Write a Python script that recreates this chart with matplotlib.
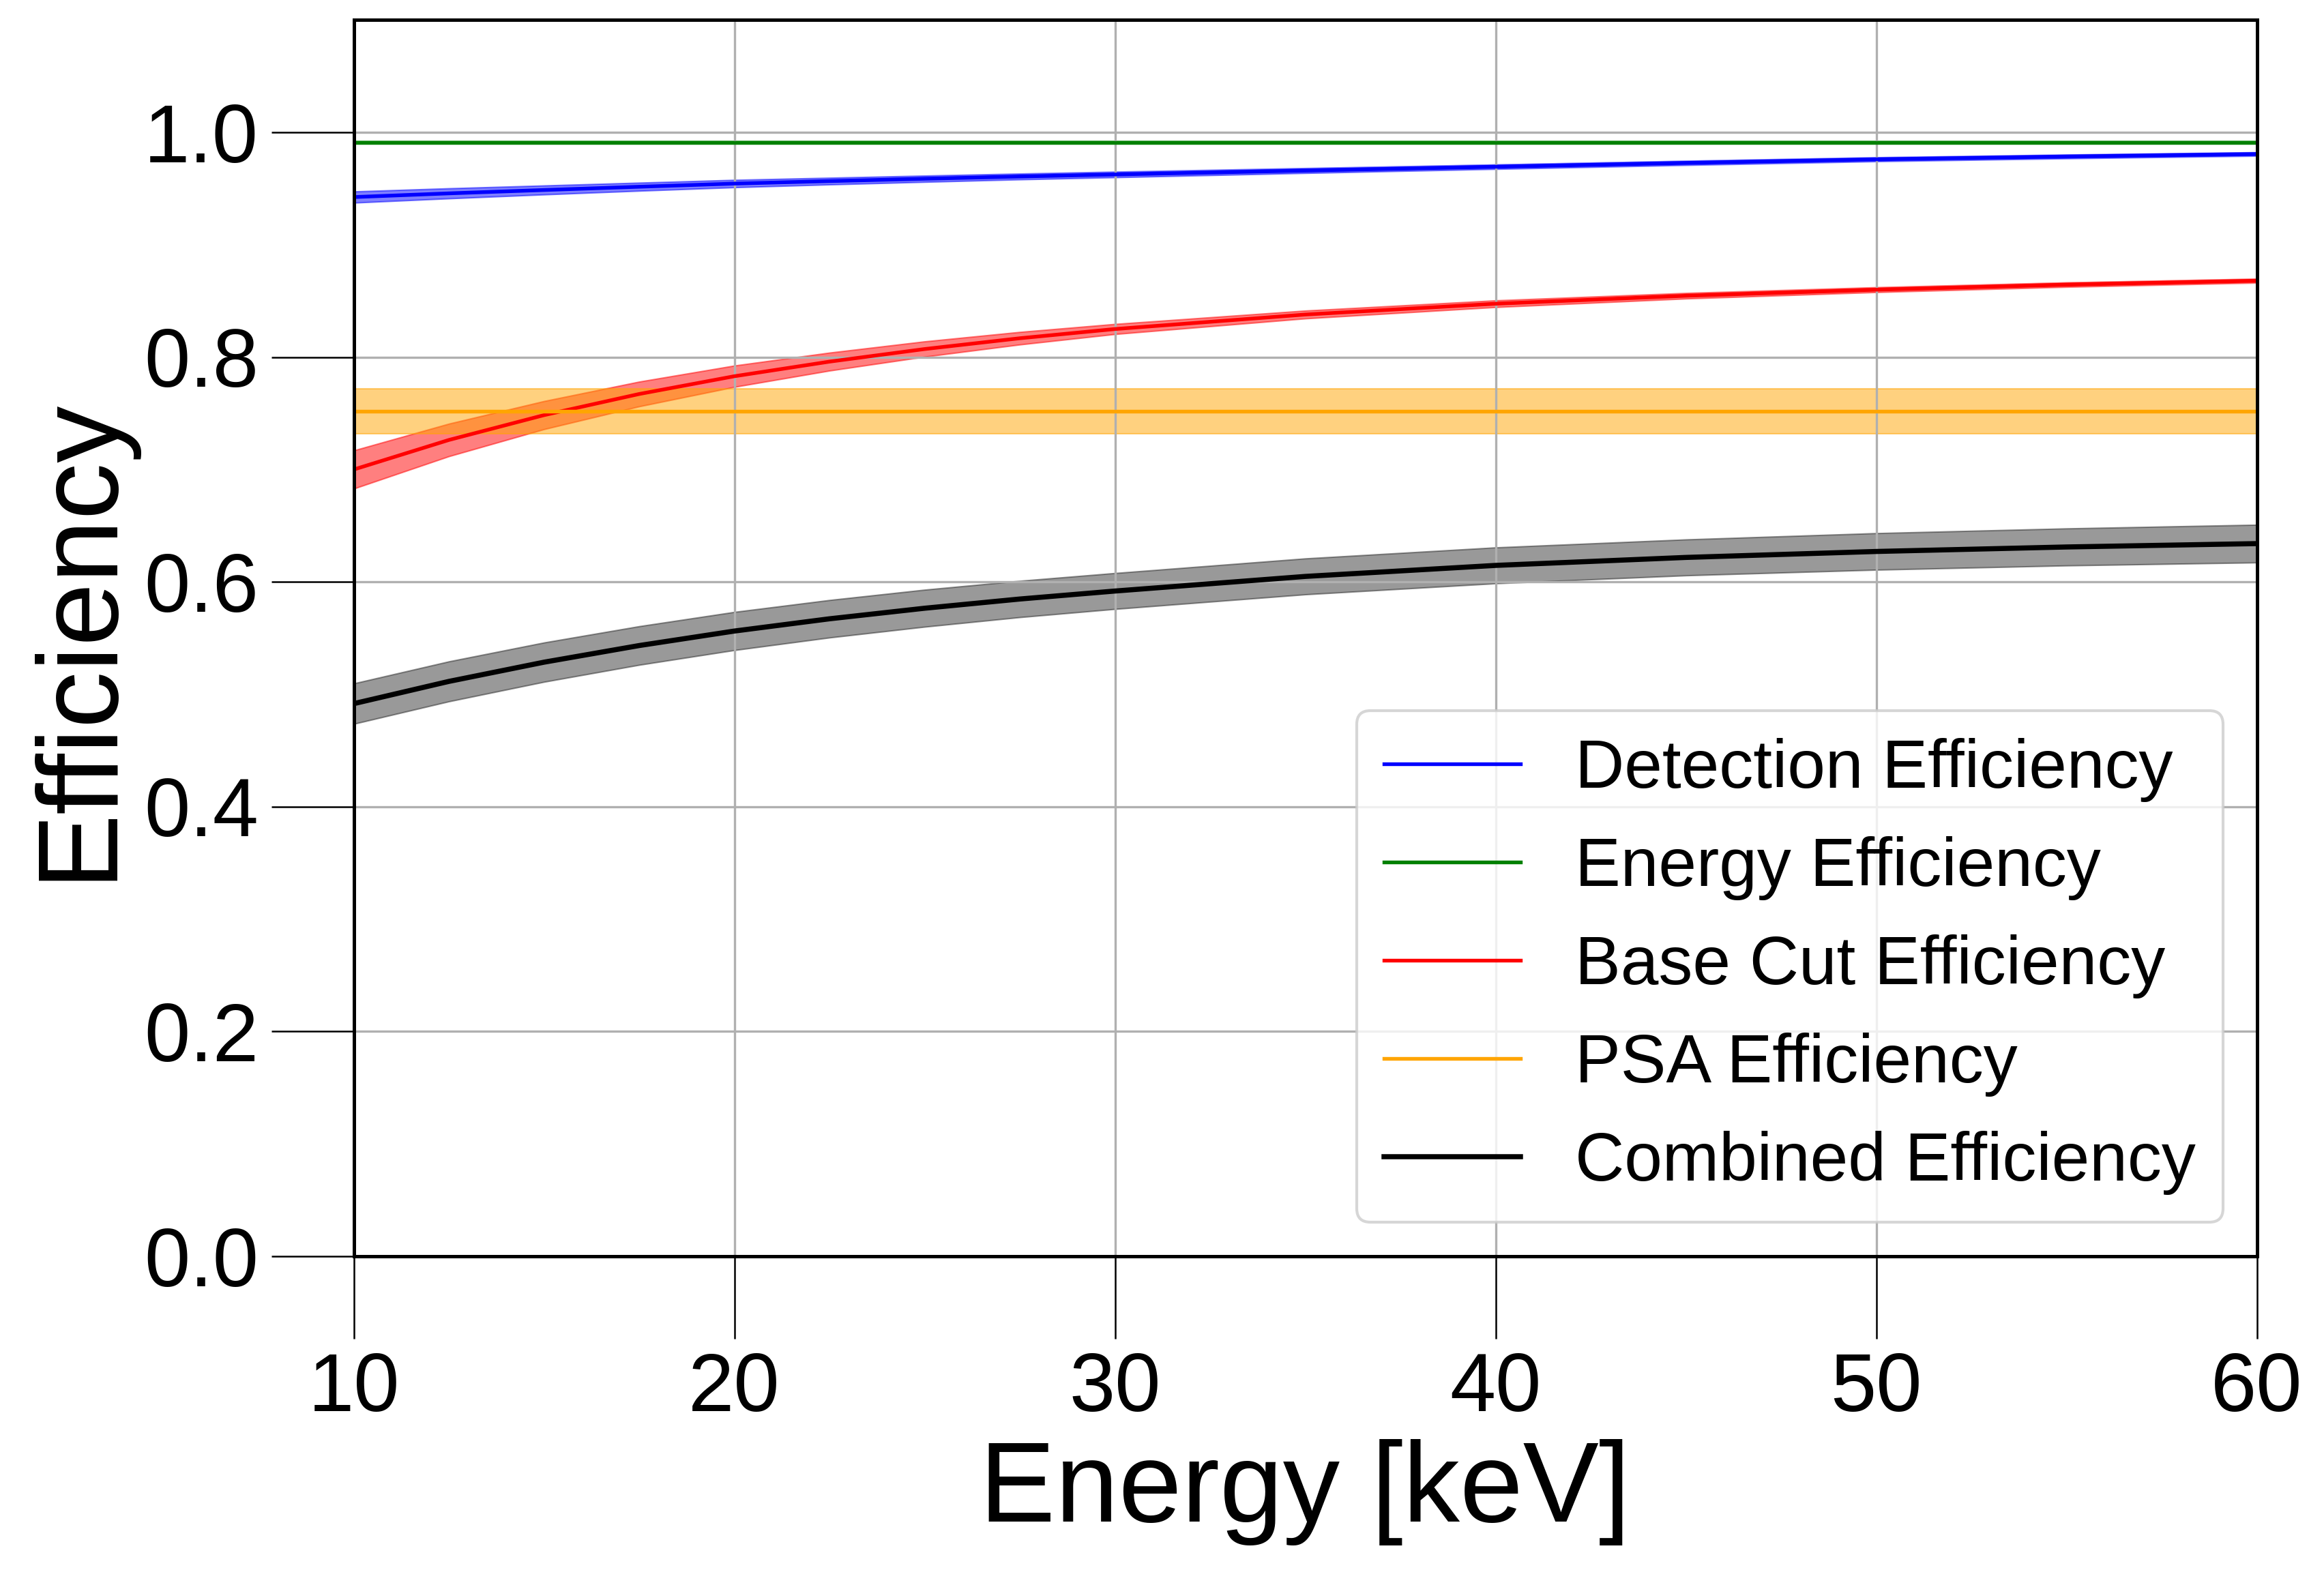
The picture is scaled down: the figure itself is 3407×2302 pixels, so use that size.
import matplotlib.pyplot as plt
import numpy as np

plt.rcParams['font.family'] = ['Liberation Sans', 'DejaVu Sans']

# Data
energy = [10, 12.5, 15, 17.5, 20, 22.5, 25, 27.5, 30, 35, 40, 45, 50, 55, 60]

detection = [0.9424, 0.9457, 0.9487, 0.9516, 0.9544, 0.9566, 0.9587, 0.9607,
             0.9625, 0.966, 0.9694, 0.9728, 0.976, 0.9785, 0.9807]
detection_err = [0.005, 0.0045, 0.004, 0.0036, 0.0033, 0.003, 0.0028, 0.0026,
                 0.0025, 0.0022, 0.002, 0.0019, 0.0018, 0.0017, 0.0016]

energy_eff = [0.991] * len(energy)
energy_eff_err = [0.001] * len(energy)

base_cut = [0.700, 0.7263, 0.7484, 0.7672, 0.783, 0.796, 0.8072, 0.8168,
            0.825, 0.8379, 0.8475, 0.8546, 0.860, 0.8645, 0.868]
base_cut_err = [0.017, 0.0145, 0.0125, 0.011, 0.0095, 0.008, 0.0068, 0.0056,
                0.0045, 0.0035, 0.003, 0.0025, 0.0022, 0.002, 0.0018]

psa = [0.752] * len(energy)
psa_err = [0.02] * len(energy)

combined = [0.4917, 0.5115, 0.5286, 0.5434, 0.5563, 0.5672, 0.5766, 0.5848,
            0.5919, 0.6049, 0.6147, 0.6218, 0.6271, 0.6311, 0.6341]
combined_err = [0.018, 0.0178, 0.0175, 0.0172, 0.017, 0.0167, 0.0165, 0.0162,
                0.016, 0.016, 0.016, 0.016, 0.0163, 0.0165, 0.0168]

fig = plt.figure(figsize=(3407 / 300, 2302 / 300), dpi=300)
ax = fig.add_axes([0.1522, 0.1998, 0.8189, 0.7875])

E = np.array(energy)

def band(vals, errs, color, label, lw=1.3, alpha=0.5):
    v = np.array(vals)
    e = np.array(errs)
    ax.plot(E, v, color=color, lw=lw, label=label)
    ax.fill_between(E, v - e, v + e, color=color, alpha=alpha, linewidth=0.5)

band(detection, detection_err, 'blue', 'Detection Efficiency')
band(energy_eff, energy_eff_err, 'green', 'Energy Efficiency')
band(base_cut, base_cut_err, 'red', 'Base Cut Efficiency')
band(psa, psa_err, 'orange', 'PSA Efficiency')
band(combined, combined_err, 'black', 'Combined Efficiency', lw=1.8, alpha=0.4)

ax.set_xlim(10, 60)
ax.set_ylim(0, 1.1)
ax.set_xticks([10, 20, 30, 40, 50, 60])
ax.set_yticks([0.0, 0.2, 0.4, 0.6, 0.8, 1.0])
ax.tick_params(axis='both', labelsize=29, length=29, width=0.6, pad=4.5)
for s in ax.spines.values():
    s.set_linewidth(1.2)

ax.set_xlabel('Energy [keV]', fontsize=40)
ax.set_ylabel('Efficiency', fontsize=40)
ax.grid(True)

ax.legend(loc='lower right', fontsize=24)

fig.savefig('out.png', dpi=300)
